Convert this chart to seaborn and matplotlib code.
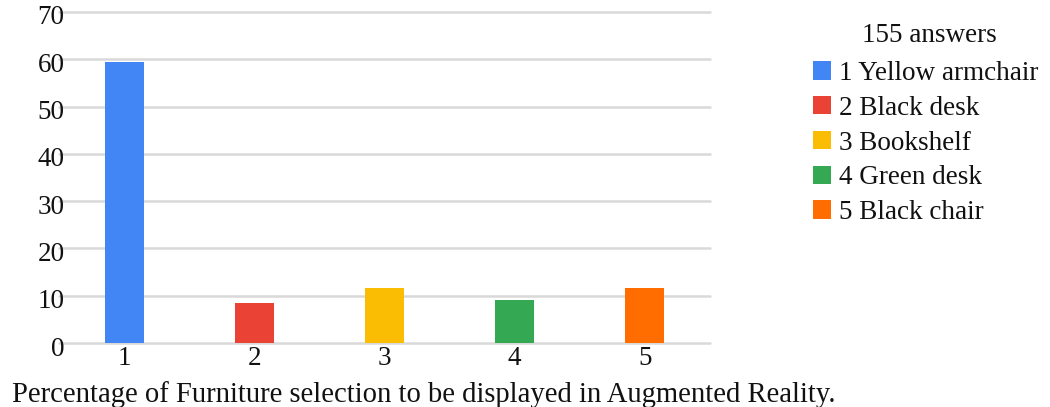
import matplotlib
matplotlib.use("Agg")
import matplotlib.pyplot as plt
import matplotlib.transforms as mtransforms
from matplotlib.patches import Patch
import seaborn as sns
import pandas as pd

# Survey results: share of respondents choosing each piece of furniture
options = ["1", "2", "3", "4", "5"]
item_names = ["Yellow armchair", "Black desk", "Bookshelf", "Green desk", "Black chair"]
percent = [59.4, 8.4, 11.6, 9.0, 11.6]
y_ticks = [0, 10, 20, 30, 40, 50, 60, 70]
total_answers = 155
colors = ["#4285F4", "#EA4335", "#FBBC04", "#34A853", "#FF6D01"]

df = pd.DataFrame({"option": options, "percent": percent})

sns.set_theme(style="white")
plt.rcParams["font.family"] = ["Liberation Serif", "DejaVu Serif"]
text_color = "#111111"

fig = plt.figure(figsize=(10.5, 4.07), dpi=100)
ax = fig.add_axes([59 / 1050, 1 - 343 / 407, 651 / 1050, 331 / 407])

sns.barplot(data=df, x="option", y="percent", hue="option",
            palette=colors, saturation=1, width=0.3, linewidth=0,
            legend=False, ax=ax)

ax.set_ylim(0, 70)
ax.set_yticks(y_ticks)
ax.set_xlim(-0.5, len(options) - 0.5)
for v in y_ticks:
    ax.axhline(v, color="#d9d9d9", lw=1.8, zorder=0, clip_on=False)
ax.grid(False)
for s in ax.spines.values():
    s.set_visible(False)
ax.tick_params(axis="y", length=0, pad=-4, labelsize=19.5, labelcolor=text_color)
ax.tick_params(axis="x", length=0, pad=2, labelsize=19.5, labelcolor=text_color)
ax.set_xlabel("")
ax.set_ylabel("")

# y labels sit slightly below their gridlines
offset = mtransforms.ScaledTranslation(0, -3 / 100, fig.dpi_scale_trans)
for lab in ax.get_yticklabels():
    lab.set_transform(lab.get_transform() + offset)

# legend: response count heading above the colour key
fig.text(929 / 1050, 1 - 35 / 407, f"{total_answers} answers",
         fontsize=19.5, color=text_color, ha="center", va="center")

handles = [Patch(facecolor=c, edgecolor="none") for c in colors]
labels = [f"{o} {n}" for o, n in zip(options, item_names)]
leg = fig.legend(handles, labels,
                 loc="upper left", bbox_to_anchor=(813 / 1050, 1 - 61 / 407),
                 frameon=False, fontsize=19.5,
                 handlelength=0.65, handleheight=0.65, handletextpad=0.3,
                 labelspacing=0.36, borderaxespad=0, borderpad=0)
for t in leg.get_texts():
    t.set_color(text_color)

fig.text(12 / 1050, 1 - 402 / 407,
         "Percentage of Furniture selection to be displayed in Augmented Reality.",
         fontsize=20.6, color=text_color, ha="left", va="baseline")

fig.savefig("out.png", dpi=100)
